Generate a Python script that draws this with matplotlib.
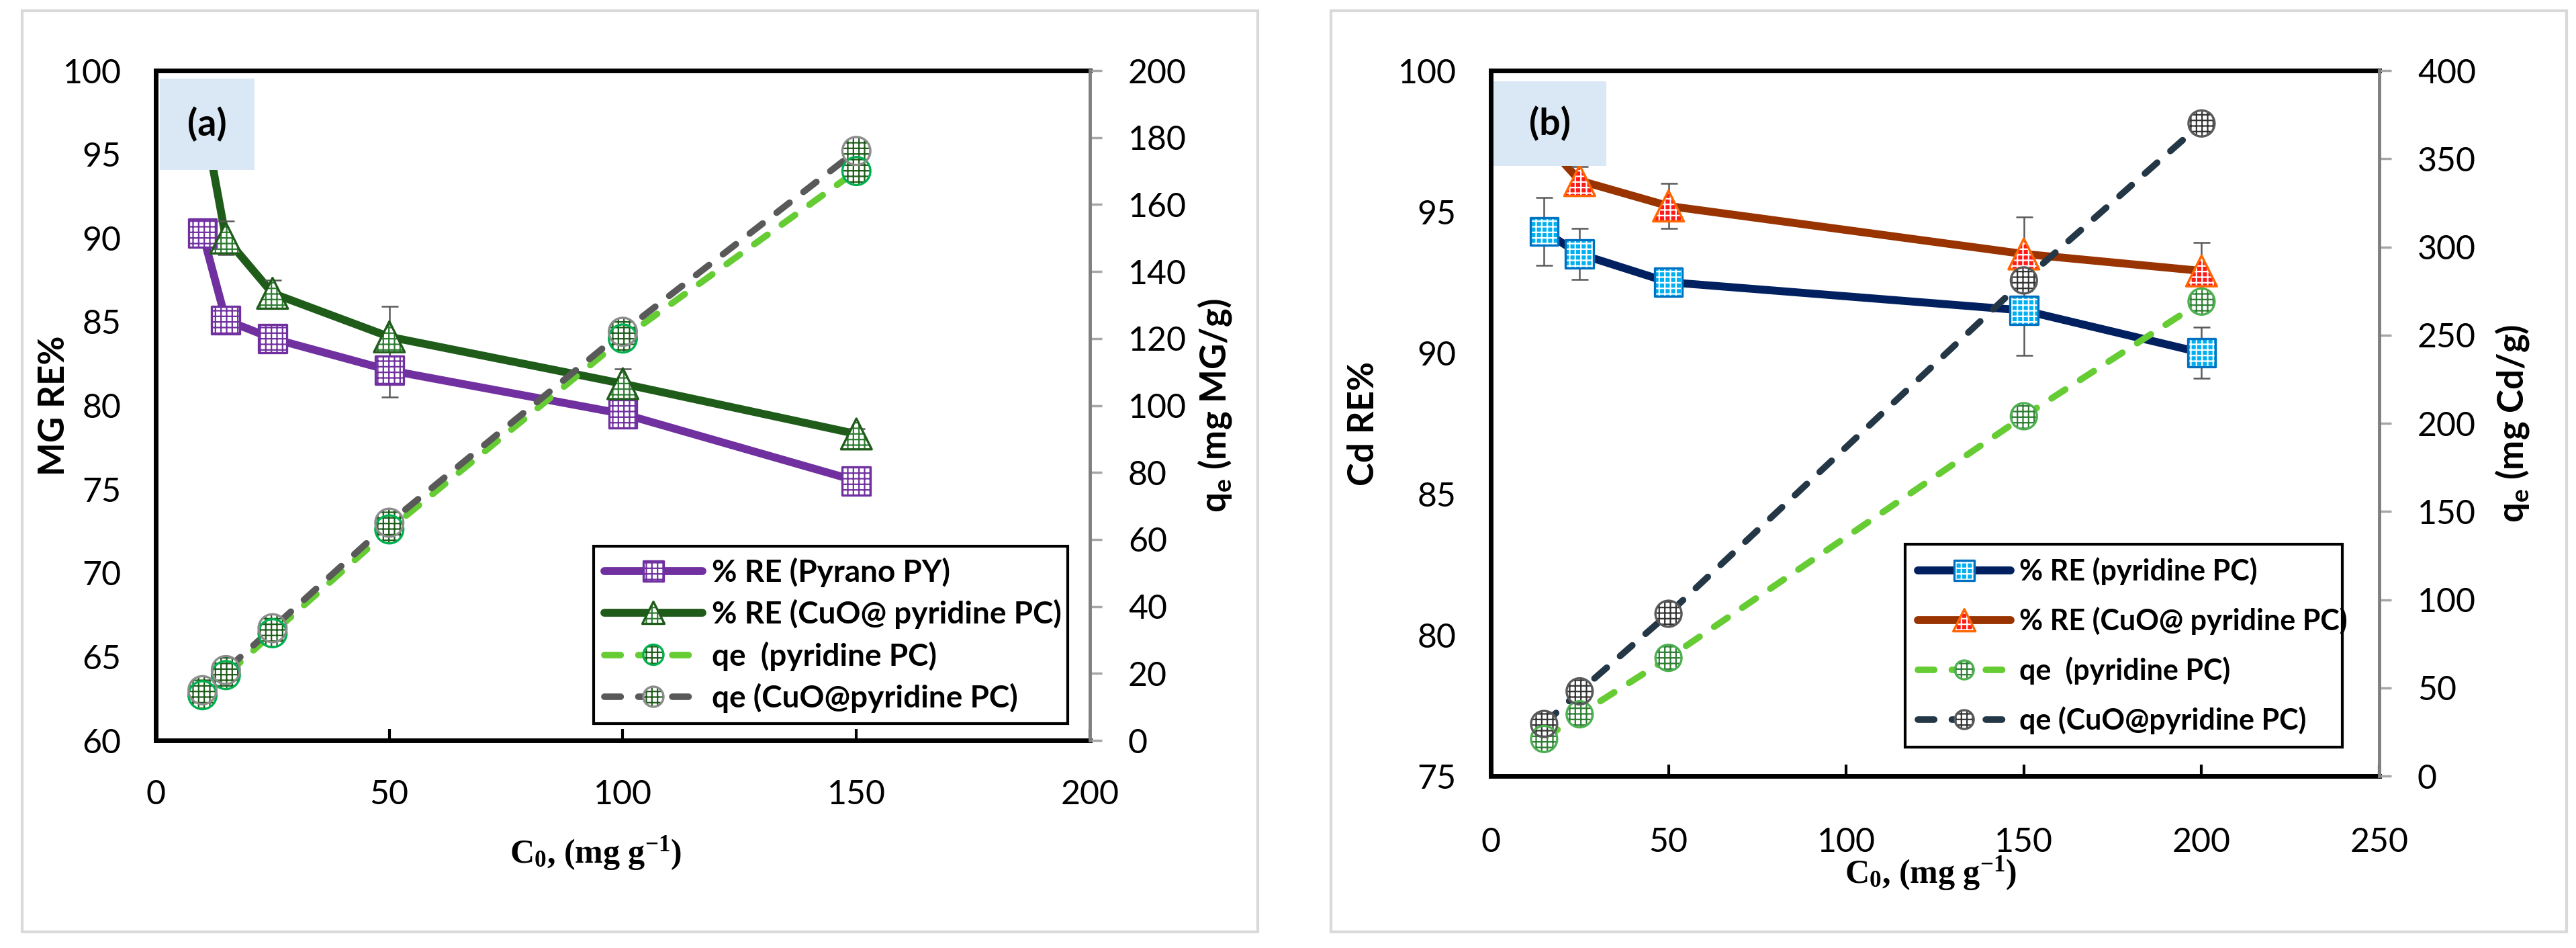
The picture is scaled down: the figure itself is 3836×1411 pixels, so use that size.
import numpy as np
import matplotlib.pyplot as plt
from matplotlib.patches import Rectangle
from matplotlib.legend_handler import HandlerTuple

plt.rcParams['font.family'] = ['Lato', 'DejaVu Sans']
plt.rcParams['mathtext.default'] = 'regular'
plt.rcParams['hatch.linewidth'] = 1.6

# ---- panel (a): MG ----
c0_a = [10, 15, 25, 50, 100, 150]
re_py_a = [90.3, 85.1, 84.0, 82.1, 79.5, 75.5]
re_py_err_a = [0.0, 0.0, 0.0, 1.6, 0.0, 0.0]
re_cuo_a = [97.6, 90.0, 86.7, 84.1, 81.3, 78.3]
re_cuo_err_a = [0.0, 1.0, 0.8, 1.8, 0.9, 0.3]
qe_pc_a = [13.5, 19.5, 32.0, 63.0, 120.0, 170.0]
qe_cuo_a = [15.0, 21.0, 33.5, 65.0, 122.0, 176.0]
labels_a = ["% RE (Pyrano PY)", "% RE (CuO@ pyridine PC)",
            "qe  (pyridine PC)", "qe (CuO@pyridine PC)"]

# ---- panel (b): Cd ----
c0_b = [15, 25, 50, 150, 200]
re_pc_b = [94.3, 93.5, 92.5, 91.5, 90.0]
re_pc_err_b = [1.2, 0.9, 0.3, 1.6, 0.9]
re_cuo_b = [97.5, 96.1, 95.2, 93.5, 92.9]
re_cuo_err_b = [0.5, 0.5, 0.8, 1.3, 1.0]
qe_pc_b = [21.0, 35.0, 67.0, 204.0, 269.0]
qe_cuo_b = [29.5, 48.0, 92.0, 281.0, 370.0]
labels_b = ["% RE (pyridine PC)", "% RE (CuO@ pyridine PC)",
            "qe  (pyridine PC)", "qe (CuO@pyridine PC)"]

DASH = (0, (2.5, 2.7))


def draw_series(ax, x, y, color, ls, marker, msize, mface, hatch_col, medge, err=None):
    line, = ax.plot(x, y, color=color, lw=8.5 if ls == '-' else 7, ls=ls, zorder=2,
                    solid_capstyle='round', dash_capstyle='round')
    if err is not None:
        ax.errorbar(x, y, yerr=err, fmt='none', ecolor='#595959', elinewidth=1.8,
                    capsize=9, capthick=1.8, zorder=3)
    # patterned fill, then outline on top
    fill = ax.scatter(x, y, s=msize ** 2, marker=marker, facecolor=mface,
                      edgecolor=hatch_col, hatch='++', linewidths=0, zorder=4)
    edge = ax.scatter(x, y, s=msize ** 2, marker=marker, facecolor='none',
                      edgecolor=medge, linewidths=2.4, zorder=5)
    return (line, fill, edge)


def style_axes(ax, ax2, xlim, xticks, ylim, yticks, y2lim, y2ticks, pads):
    ax.set_xlim(xlim)
    ax.set_xticks(xticks)
    ax.set_ylim(ylim)
    ax.set_yticks(yticks)
    ax2.set_ylim(y2lim)
    ax2.set_yticks(y2ticks)
    for s in ['left', 'top', 'bottom']:
        ax.spines[s].set_linewidth(5)
        ax.spines[s].set_color('black')
        ax2.spines[s].set_visible(False)
    ax.spines['right'].set_visible(False)
    ax2.spines['right'].set_color('#7F7F7F')
    ax2.spines['right'].set_linewidth(3.5)
    ax.tick_params(axis='y', length=0, labelsize=36, pad=pads[0])
    ax.tick_params(axis='x', direction='in', length=12, width=3, labelsize=36, pad=pads[1])
    ax2.tick_params(axis='y', direction='out', length=13, width=2.5, color='#A6A6A6',
                    labelsize=36, pad=pads[2])


def label_box(ax, text, x0, y0, w, h):
    ax.add_patch(Rectangle((x0, y0), w, h, transform=ax.transAxes, facecolor='#DAE8F5',
                           edgecolor='none', zorder=10))
    ax.text(x0 + w / 2, y0 + h / 2, text, transform=ax.transAxes, ha='center', va='center',
            fontsize=40, fontweight='bold', zorder=11)


def add_legend(ax, handles, labels, anchor, size, spacing, pad):
    leg = ax.legend(handles, labels, handler_map={tuple: HandlerTuple(ndivide=1, pad=0)},
                    loc='lower left', bbox_to_anchor=anchor, mode='expand',
                    prop={'weight': 'bold', 'size': size}, handlelength=3.2,
                    handletextpad=0.3, labelspacing=spacing, borderpad=pad,
                    scatterpoints=1, scatteryoffsets=[0.5], markerscale=0.72,
                    fancybox=False, framealpha=1, edgecolor='black')
    leg.get_frame().set_linewidth(3)
    leg.set_zorder(20)
    return leg


fig = plt.figure(figsize=(38.37, 14.11), dpi=100)

# panel frames
fig.patches.append(Rectangle((0.0086, 0.017), 0.4795, 0.972, transform=fig.transFigure,
                             facecolor='none', edgecolor='#D9D9D9', lw=3))
fig.patches.append(Rectangle((0.5166, 0.017), 0.4795, 0.972, transform=fig.transFigure,
                             facecolor='none', edgecolor='#D9D9D9', lw=3))

# ---------- (a) ----------
ax = fig.add_axes([0.06046, 0.21899, 0.36253, 0.70659])
ax2 = ax.twinx()
h1 = draw_series(ax, c0_a, re_py_a, '#7030A0', '-', 's', 30, 'white', '#7030A0', '#7030A0',
                 err=re_py_err_a)
h2 = draw_series(ax, c0_a, re_cuo_a, '#1F5C1A', '-', '^', 33, 'white', '#2E7D32', '#1F5C1A',
                 err=re_cuo_err_a)
h3 = draw_series(ax2, c0_a, qe_pc_a, '#66CC33', DASH, 'o', 30, 'white', '#1F5C1A', '#00B050')
h4 = draw_series(ax2, c0_a, qe_cuo_a, '#595959', DASH, 'o', 30, 'white', '#1F5C1A', '#8C8C8C')
style_axes(ax, ax2, (0, 200), range(0, 201, 50), (60, 100), range(60, 101, 5),
           (0, 200), range(0, 201, 20), (37, 42, 28))
ax.set_ylabel('MG RE%', fontsize=38, fontweight='bold', va='center')
ax.yaxis.set_label_coords(-0.109, 0.5)
ax2.set_ylabel('q$_e$ (mg MG/g)', fontsize=38, fontweight='bold', rotation=90, va='center')
ax2.yaxis.set_label_coords(1.134, 0.5)
ax.set_xlabel('C$_0$, (mg g$^{-1}$)', fontsize=36, fontweight='bold',
              family='Liberation Serif', va='center')
ax.xaxis.set_label_coords(0.471, -0.168)
label_box(ax2, '(a)', 0.004, 0.852, 0.102, 0.136)
add_legend(ax2, [h1, h2, h3, h4], labels_a, (0.452, 0.002, 0.541, 0.3), 33, 0.4, 0.35)

# ---------- (b) ----------
bx = fig.add_axes([0.57858, 0.18143, 0.3448, 0.74415])
bx2 = bx.twinx()
g1 = draw_series(bx, c0_b, re_pc_b, '#002060', '-', 's', 30, '#00B0F0', 'white', '#0070C0',
                 err=re_pc_err_b)
g2 = draw_series(bx, c0_b, re_cuo_b, '#993300', '-', '^', 33, '#FF1A1A', 'white', '#FF6600',
                 err=re_cuo_err_b)
g3 = draw_series(bx2, c0_b, qe_pc_b, '#66CC33', DASH, 'o', 28, 'white', '#2E7D32', '#4CAF50')
g4 = draw_series(bx2, c0_b, qe_cuo_b, '#243746', DASH, 'o', 28, 'white', '#333333', '#595959')
style_axes(bx, bx2, (0, 250), range(0, 251, 50), (75, 100), range(75, 101, 5),
           (0, 400), range(0, 401, 50), (37, 55, 28))
bx.set_ylabel('Cd RE%', fontsize=38, fontweight='bold', va='center')
bx.yaxis.set_label_coords(-0.143, 0.5)
bx2.set_ylabel('q$_e$ (mg Cd/g)', fontsize=38, fontweight='bold', rotation=90, va='center')
bx2.yaxis.set_label_coords(1.15, 0.5)
bx.set_xlabel('C$_0$, (mg g$^{-1}$)', fontsize=36, fontweight='bold',
              family='Liberation Serif', va='center')
bx.xaxis.set_label_coords(0.495, -0.138)
label_box(bx2, '(b)', 0.003, 0.865, 0.127, 0.12)
add_legend(bx2, [g1, g2, g3, g4], labels_b, (0.45, 0.02, 0.525, 0.3), 31, 0.75, 0.45)

fig.savefig('out.png', dpi=100)
